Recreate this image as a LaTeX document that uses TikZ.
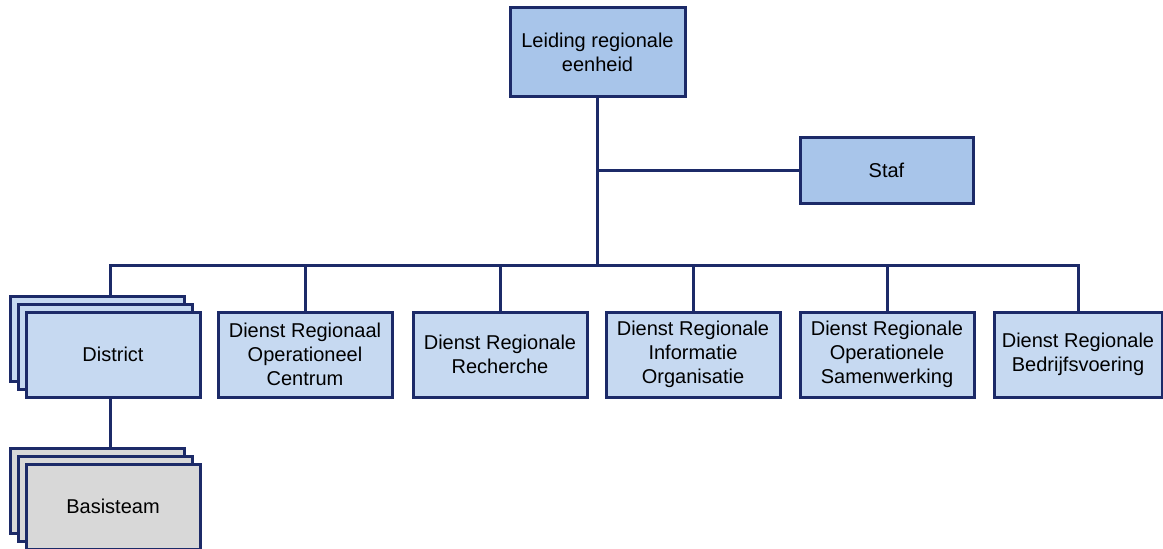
\documentclass[tikz,border=0pt]{standalone}
\usepackage{fontspec}
\setmainfont{Liberation Sans}
\usetikzlibrary{calc}

\definecolor{lijn}{RGB}{28,42,104}
\definecolor{donkerblauw}{RGB}{168,197,234}
\definecolor{lichtblauw}{RGB}{198,217,241}
\definecolor{grijs}{RGB}{216,216,216}

\begin{document}
\begin{tikzpicture}[x=0.75pt,y=0.75pt,yscale=-1,xscale=1,
	eenheid/.style={draw=lijn, line width=2.25pt, fill=lichtblauw, rectangle, align=center, inner sep=1pt,
		minimum width=130.5pt, minimum height=63.75pt, font=\fontsize{15}{18}\selectfont},
	leiding/.style={eenheid, fill=donkerblauw},
	team/.style={eenheid, fill=grijs},
	verbinding/.style={draw=lijn, line width=2.25pt}]
	\useasboundingbox (0,0) rectangle (1163,549);
	
	%Leiding en staf
	\node [leiding, minimum width=131.25pt, minimum height=66.75pt] (leiding) at (597.5,52.5) {Leiding regionale\\eenheid};
	\node [leiding, minimum width=129.75pt, minimum height=48.75pt] (staf) at (886.5,170.5) {Staf};
	
	%District (gestapeld)
	\node [eenheid] (district3) at (97,338.5) {};
	\node [eenheid] (district2) at (105,346.5) {};
	\node [eenheid] (district) at (113,354.5) {District};
	
	%Basisteam (gestapeld)
	\node [team] (basisteam3) at (97,490.5) {};
	\node [team] (basisteam2) at (105,498.5) {};
	\node [team] (basisteam) at (113,506.5) {Basisteam};
	
	%Diensten
	\node [eenheid] (droc) at (305,354.5) {Dienst Regionaal\\Operationeel\\Centrum};
	\node [eenheid] (drr) at (500,354.5) {Dienst Regionale\\Recherche};
	\node [eenheid] (drio) at (693,354.5) {Dienst Regionale\\Informatie\\Organisatie};
	\node [eenheid] (dros) at (887,354.5) {Dienst Regionale\\Operationele\\Samenwerking};
	\node [eenheid, minimum width=126pt] (drb) at (1078,354.5) {Dienst Regionale\\Bedrijfsvoering};
	
	%Verbindingen
	\coordinate (bus) at (597.5,265);
	\draw [verbinding] (leiding.south) -- (bus);
	\draw [verbinding] (leiding.south |- staf.west) -- (staf.west);
	\draw [verbinding] (district3.north -| 110,0) -- (bus -| 110,0) -- (bus -| drb.north) -- (drb.north);
	\foreach \dienst in {droc,drr,drio,dros}
		\draw [verbinding] (\dienst.north) -- (\dienst.north |- bus);
	\draw [verbinding] (district.south -| 110,0) -- (basisteam3.north -| 110,0);
\end{tikzpicture}
\end{document}
